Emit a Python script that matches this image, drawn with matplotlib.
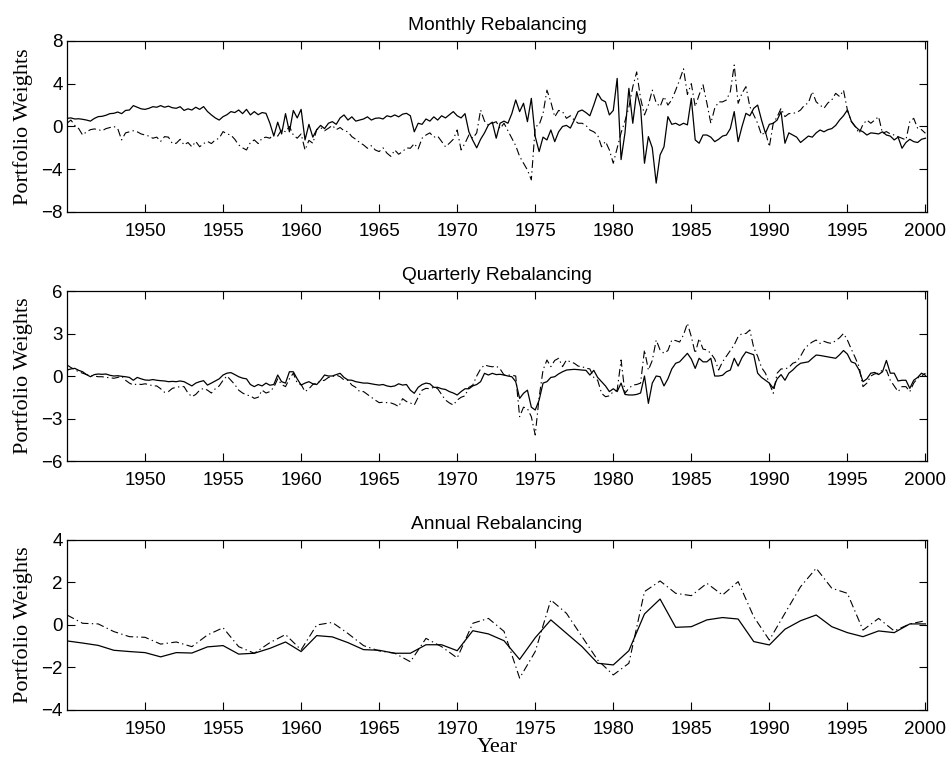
import numpy as np
import matplotlib
matplotlib.use("Agg")
import matplotlib.pyplot as plt

# ---------------- dados ----------------
# passo trimestral (1945.00, 1945.25, ...) para os painéis mensal e trimestral
mensal_solida = [
    0.76, 0.8, 0.7, 0.72,   0.67, 0.6, 0.5, 0.75,   0.92, 0.95, 1.05, 1.2,
    1.23, 1.35, 1.2, 1.5,   1.54, 1.95, 1.8, 1.65,  1.6, 1.7, 1.85, 1.8,
    1.95, 1.8, 1.9, 1.75,   1.7, 1.85, 1.5, 1.65,   1.54, 1.8, 1.6, 1.86,
    1.4, 1.08, 0.8, 0.6,    0.92, 1.1, 1.39, 1.3,   1.54, 1.2, 1.6, 1.08,
    1.39, 1.1, 1.3, 1.23,   0.3, -0.9, 0.4, -0.7,   1.2, -0.5, 1.5, 0.8,
    1.6, -1.26, 0.2, -1.0,  -0.3, 0.1, -0.2, 0.3,   0.45, 0.2, 0.8, 1.08,
    0.6, 0.9, 0.5, 0.6,     0.7, 0.9, 0.6, 0.76,    0.8, 0.7, 1.0, 0.9,
    1.08, 0.9, 1.15, 1.23,  1.0, -0.5, 0.3, 0.2,    0.7, 0.5, 0.9, 0.6,
    1.0, 0.8, 1.1, 1.39,    1.0, 0.8, 1.2, -0.5,    -1.3, -2.0, -1.2, -0.6,
    0.14, 0.4, -1.1, 0.3,   0.5, 0.3, 1.2, 2.48,    1.39, 2.17, 0.45, 2.63,
    -0.95, -2.35, -1.0, -1.26,  -0.33, -1.42, -0.5, 0.0,  0.1, -0.15, 0.6, 1.39,
    1.54, 1.3, 1.0, 2.0,    3.1, 2.5, 2.3, 1.08,    1.5, 4.5, -3.1, -0.6,
    3.57, 0.3, 3.26, 1.8,   -3.44, -0.95, -2.0, -5.3,  -2.66, -1.9, 0.92, 0.2,
    0.3, 0.1, 0.3, 0.15,    2.63, -1.26, -1.57, -0.8,  -0.8, -1.0, -1.42, -1.2,
    -0.9, -0.8, -0.2, 1.39, -1.42, 0.0, 1.23, 1.0,  1.7, 2.0, 0.6, -0.64,
    0.2, 0.3, 0.6, 1.39,    -1.57, -0.6, -0.8, -1.0,  -1.5, -1.2, -0.9, -1.0,
    -0.6, -0.33, -0.5, -0.3,  -0.2, 0.1, 0.6, 1.0,  1.54, 0.5, 0.0, -0.33,
    -0.5, -0.8, -0.6, -0.64,  -0.7, -0.5, -0.8, -0.9,  -1.26, -1.0, -2.04, -1.5,
    -1.2, -1.42, -1.5, -1.2,  -1.1,
]
mensal_traco = [
    0.3, 0.6, 0.1, -0.2,    -0.8, -0.5, -0.3, -0.23,  -0.3, -0.4, -0.2, -0.1,
    0.0, -0.2, -1.26, -0.6, -0.5, -0.4, -0.5, -0.7,   -0.8, -0.9, -1.1, -1.0,
    -1.4, -0.95, -1.0, -1.6,  -1.57, -1.2, -1.73, -1.5,  -1.9, -1.4, -1.9, -1.6,
    -1.4, -1.6, -1.26, -1.1,  -0.48, -0.7, -0.8, -1.2,  -1.73, -2.0, -2.2, -1.5,
    -1.26, -1.6, -1.1, -1.0,  -1.1, -0.7, -0.9, -0.3,  -0.5, 0.0, -0.8, -1.1,
    -0.7, -2.2, -1.3, -1.57,  -0.3, -0.1, -0.4, -0.17,  0.1, -0.3, -0.1, -0.4,
    -0.5, -0.95, -1.2, -1.5,  -1.73, -2.04, -1.8, -2.2,  -2.35, -2.0, -2.5, -2.8,
    -2.2, -2.6, -2.35, -2.0,  -2.04, -1.6, -2.1, -1.1,  -0.8, -0.6, -1.0, -0.9,
    -1.4, -1.9, -1.57, -1.2,  -0.33, -2.2, -1.57, -0.8,  -1.1, -0.6, 1.54, 0.5,
    0.14, 0.3, 0.45, -0.2,  0.3, -0.4, -1.1, -1.8,   -2.8, -3.44, -4.07, -5.0,
    0.0, 0.14, 1.2, 3.4,    2.3, 0.9, 1.5, 1.39,     0.76, 1.0, 0.6, 0.3,
    0.3, 0.1, -0.33, -0.5,  -0.8, -1.9, -1.4, -2.2,  -3.44, -2.0, -0.6, 0.5,
    1.8, 3.7, 5.1, 2.63,    1.08, 2.0, 3.4, 2.2,     1.86, 2.8, 2.0, 2.5,
    3.4, 4.35, 5.4, 3.0,    4.0, 1.86, 2.95, 3.9,    2.17, 0.3, 1.7, 2.3,
    2.3, 2.48, 3.26, 5.75,  2.17, 3.1, 3.73, 1.86,   1.08, 0.3, -0.8, -0.5,
    -1.9, 0.3, 0.9, 1.7,    0.92, 1.2, 1.23, 1.3,    1.54, 2.0, 2.2, 3.26,
    2.3, 2.0, 1.7, 2.2,     2.48, 3.1, 2.8, 3.4,     1.54, 0.45, 0.0, -0.64,
    0.2, 0.6, 0.3, 0.6,     0.92, -0.64, -0.48, -0.7,  -0.8, -0.95, -1.1, -1.26,
    0.45, 0.76, -0.17, -0.3,  -0.64,
]
trimestral_solida = [
    0.42, 0.5, 0.54, 0.4,   0.3, 0.1, -0.05, 0.1,   0.14, 0.12, 0.14, 0.05,
    0.0, 0.02, -0.02, -0.05,  -0.1, -0.3, -0.1, -0.2,  -0.28, -0.3, -0.25, -0.3,
    -0.33, -0.35, -0.4, -0.38,  -0.4, -0.35, -0.4, -0.55,  -0.7, -0.5, -0.4, -0.33,
    -0.64, -0.5, -0.35, -0.2,  0.07, 0.2, 0.24, 0.1,  -0.05, -0.15, -0.2, -0.6,
    -0.75, -0.6, -0.7, -0.5,  -0.65, -0.6, 0.07, -0.4,  -0.5, 0.3, 0.3, -0.2,
    -0.64, -0.5, -0.4, -0.55,  -0.6, -0.3, 0.07, 0.0,  0.0, 0.1, 0.19, -0.1,
    -0.28, -0.3, -0.4, -0.45,  -0.5, -0.5, -0.55, -0.6,  -0.64, -0.6, -0.7, -0.75,
    -0.7, -0.55, -0.64, -0.6,  -1.0, -1.22, -0.8, -0.6,  -0.5, -0.55, -0.8, -0.8,
    -0.9, -0.95, -1.1, -1.2,  -1.34, -1.1, -0.9, -0.9,  -0.7, -0.6, -0.4, 0.19,
    0.07, 0.19, 0.1, 0.12,  0.07, 0.0, -0.05, -0.4,  -1.58, -1.22, -1.0, -2.2,
    -2.4, -1.7, -0.5, -0.4,  -0.1, -0.05, 0.15, 0.3,  0.42, 0.45, 0.47, 0.45,
    0.42, 0.4, 0.07, 0.4,   -0.1, -0.4, -0.7, -1.1,  -0.9, -1.1, -0.5, -1.3,
    -1.34, -1.34, -1.3, -1.2,  0.0, -1.93, -0.5, 0.0,  -0.05, -0.7, -0.2, 0.5,
    0.9, 1.0, 1.3, 1.6,     1.2, 0.54, 1.25, 1.0,    1.0, 1.25, 0.0, 0.0,
    0.05, 0.3, 0.42, 1.25,  0.7, 1.3, 1.7, 1.6,      1.5, 0.2, -0.1, -0.3,
    -0.5, -0.87, -0.2, 0.1,  -0.3, 0.2, 0.42, 0.7,  0.9, 0.95, 1.0, 1.25,
    1.48, 1.45, 1.4, 1.35,  1.3, 1.25, 1.5, 1.8,     1.55, 1.0, 0.9, 0.42,
    -0.4, -0.2, 0.2, 0.25,  0.1, 0.3, 1.1, 0.2,      0.2, -0.35, -0.3, -0.3,
    -0.87, -0.3, -0.1, 0.2,  0.05,
]
trimestral_traco = [
    0.78, 0.6, 0.45, 0.3,   0.2, 0.1, 0.05, 0.0,    -0.05, -0.05, -0.1, -0.12,
    -0.16, -0.1, 0.0, -0.3,  -0.5, -0.64, -0.55, -0.6,  -0.55, -0.6, -0.7, -0.7,
    -0.9, -1.15, -1.1, -0.87,  -0.8, -0.75, -0.75, -1.2,  -1.46, -1.3, -1.0, -0.87,
    -1.0, -1.2, -0.9, -0.7,  -0.3, 0.0, -0.3, -0.6,   -1.0, -1.2, -1.34, -1.4,
    -1.58, -1.5, -1.0, -1.2,  -1.1, -0.8, -0.2, -0.6,  -0.75, -0.2, 0.2, -0.5,
    -0.6, -1.1, -0.9, -0.6,  -0.5, -0.35, -0.3, -0.1,  -0.05, 0.07, -0.05, -0.28,
    -0.3, -0.64, -0.8, -1.1,  -1.1, -1.3, -1.5, -1.7,  -1.88, -1.85, -1.88, -1.9,
    -2.0, -2.16, -1.6, -1.8,  -1.9, -2.05, -1.5, -1.0,  -0.87, -0.9, -0.8, -0.9,
    -1.3, -1.7, -1.9, -2.05,  -1.7, -1.5, -1.4, -0.8,  -0.64, 0.0, 0.5, 0.78,
    0.7, 0.65, 0.7, 0.5,    0.07, 0.07, 0.05, 0.0,   -2.87, -2.2, -2.3, -2.87,
    -4.16, -1.5, 0.42, 1.13,  0.66, 1.1, 1.25, 0.66,  1.13, 1.0, 0.9, 0.7,
    0.66, 0.55, 0.5, -0.1,  -0.3, -1.22, -1.46, -1.4,  -1.1, -1.0, 1.13, -1.22,
    -0.87, -0.64, -0.6, -0.5,  1.84, 0.42, 1.1, 2.54,  1.84, 1.6, 1.8, 2.54,
    2.5, 2.4, 2.9, 3.72,    2.78, 1.6, 2.65, 1.9,    1.84, 1.6, 1.2, 0.42,
    1.0, 1.4, 1.8, 2.2,     2.78, 3.0, 3.0, 3.25,    2.0, 1.4, 0.6, 0.2,
    -0.5, -1.22, 0.2, 0.5,  0.5, 0.6, 0.9, 1.0,      1.4, 1.9, 2.2, 2.4,
    2.54, 2.3, 2.45, 2.35,  2.3, 2.5, 2.7, 3.0,      2.54, 1.9, 1.3, 0.66,
    -0.75, -0.5, 0.0, 0.15,  0.2, 0.42, 0.42, -0.3,  -0.7, -1.1, -0.75, -0.75,
    -1.1, -0.5, -0.15, 0.0,  0.2,
]
# painel anual: um valor por ano, 1945..2000
anual_solida = [
    -0.75, -0.85, -0.96, -1.19, -1.25, -1.30, -1.5, -1.30, -1.32, -1.03,
    -0.97, -1.37, -1.33, -1.1, -0.8, -1.25, -0.5, -0.56, -0.83, -1.16,
    -1.19, -1.33, -1.33, -0.93, -0.93, -1.21, -0.27, -0.42, -0.74, -1.62,
    -0.6, 0.24, -0.39, -1.02, -1.8, -1.88, -1.21, 0.52, 1.22, -0.11,
    -0.08, 0.24, 0.35, 0.28, -0.78, -0.94, -0.2, 0.2, 0.47, -0.08,
    -0.36, -0.55, -0.28, -0.36, 0.05, 0.05,
]
anual_traco = [
    0.47, 0.08, 0.05, -0.31, -0.55, -0.58, -0.9, -0.8, -1.02, -0.47,
    -0.13, -1.02, -1.33, -0.83, -0.45, -1.17, 0.0, 0.12, -0.4, -0.97,
    -1.22, -1.33, -1.73, -0.63, -1.02, -1.55, 0.08, 0.31, -0.3, -2.5,
    -1.25, 1.18, 0.55, -0.55, -1.65, -2.35, -1.8, 1.57, 2.07, 1.49,
    1.38, 1.96, 1.41, 2.04, 0.39, -0.71, 0.55, 1.8, 2.67, 1.73,
    1.49, -0.24, 0.31, -0.28, 0.05, 0.2,
]

titulos = ['Monthly Rebalancing', 'Quarterly Rebalancing', 'Annual Rebalancing']
ticks_y = [[-8, -4, 0, 4, 8], [-6, -3, 0, 3, 6], [-4, -2, 0, 2, 4]]
ticks_x = [1950, 1955, 1960, 1965, 1970, 1975, 1980, 1985, 1990, 1995, 2000]


def anos(serie, passo):
    return 1945 + passo * np.arange(len(serie))


paineis = [
    (anos(mensal_solida, 0.25), mensal_solida, anos(mensal_traco, 0.25), mensal_traco),
    (anos(trimestral_solida, 0.25), trimestral_solida, anos(trimestral_traco, 0.25), trimestral_traco),
    (anos(anual_solida, 1.0), anual_solida, anos(anual_traco, 1.0), anual_traco),
]

fig = plt.figure(figsize=(9.49, 7.6), dpi=100)
# posições dos eixos (fração da figura)
posicoes = [[0.0706, 0.7211, 0.9062, 0.2250],
            [0.0706, 0.3934, 0.9062, 0.2237],
            [0.0706, 0.0658, 0.9062, 0.2237]]

for i, (xs, ys, xd, yd) in enumerate(paineis):
    ax = fig.add_axes(posicoes[i])
    ax.plot(xd, yd, color='black', lw=0.8, linestyle=(0, (7, 3, 1.2, 3)))
    ax.plot(xs, ys, color='black', lw=0.9, linestyle='-')
    ax.set_xlim(1945, 2000.1)
    lim = ticks_y[i][-1]
    ax.set_ylim(-lim, lim)
    ax.set_yticks(ticks_y[i])
    ax.set_xticks(ticks_x)
    ax.tick_params(direction='in', top=True, right=True, length=6, width=0.8,
                   labelsize=13.5)
    ax.tick_params(axis='x', pad=8)
    ax.tick_params(axis='y', pad=3)
    for lab in ax.get_xticklabels() + ax.get_yticklabels():
        lab.set_family('Liberation Sans')
    for sp in ax.spines.values():
        sp.set_linewidth(0.9)
    ax.set_title(titulos[i], fontsize=13.8, family='Liberation Sans', pad=8)
    ax.set_ylabel('Portfolio Weights', fontsize=16, family='Liberation Serif', labelpad=6)
    if i == 2:
        ax.set_xlabel('Year', fontsize=16, family='Liberation Serif', labelpad=0)

fig.savefig('out.png', dpi=100)
